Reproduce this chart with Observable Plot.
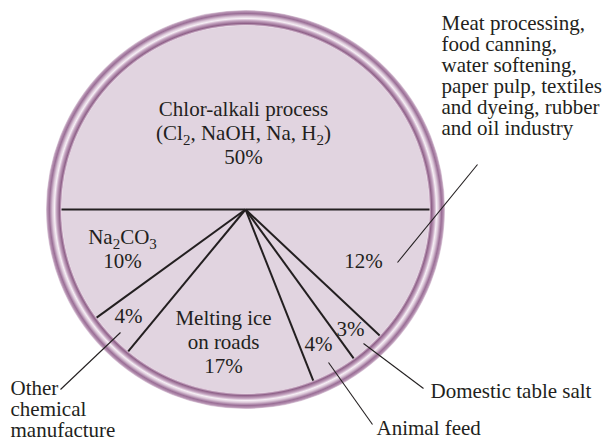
<!DOCTYPE html>
<html><head><meta charset="utf-8">
<script src="https://cdn.jsdelivr.net/npm/d3@7"></script>
<script src="https://cdn.jsdelivr.net/npm/@observablehq/plot@0.6"></script>
<style>body{margin:0;background:#fff}</style>
</head><body><div id="chart"></div>
<script>
// ---- data ----
const categories = [
  "Chlor-alkali process",
  "Meat processing, food canning, water softening, paper pulp, textiles and dyeing, rubber and oil industry",
  "Domestic table salt",
  "Animal feed",
  "Melting ice on roads",
  "Other chemical manufacture",
  "Na2CO3"
];
const shares = [50, 12, 3, 4, 17, 4, 10];
const insideNames = ["Chlor-alkali process\n(Cl_2, NaOH, Na, H_2)", "", "", "", "Melting ice\non roads", "", "Na_2CO_3"];
const calloutNames = ["", "Meat processing,\nfood canning,\nwater softening,\npaper pulp, textiles\nand dyeing, rubber\nand oil industry", "Domestic table salt", "Animal feed", "", "Other\nchemical\nmanufacture", ""];

// ---- layout (offsets from pie centre, in px) ----
const W = 607, H = 440, CX = 245, CY = 209, R = 184, RO = 199.5;
const FS = 21;
const insideAnchor = [[-2, -46], [118, 58], [105, 126], [73, 141], [-22, 163], [-117, 113], [-123, 58]];
const leaderStart = [null, [152, 53], [118, 134], [83, 153], null, [-125, 123], null];
const leaderEnd = [null, [232, -45], [178, 179], [127, 215], null, [-185, 180], null];
const calloutAnchor = [null, [196, -75], [185, 188], [131, 225], null, [-235, 227], null];
const ink = "#231f20";

const arcs = d3.pie().sort(null).startAngle(-Math.PI / 2).endAngle(3 * Math.PI / 2)(shares);
const boundaries = arcs.map(a => ({x: R * Math.sin(a.startAngle), y: -R * Math.cos(a.startAngle)}));

const insideData = shares.map((s, i) => ({
  x: insideAnchor[i][0], y: insideAnchor[i][1],
  text: (insideNames[i] ? insideNames[i] + "\n" : "") + s + "%"
}));
const leaders = categories.map((c, i) => leaderStart[i] ? {
  x1: leaderStart[i][0], y1: leaderStart[i][1], x2: leaderEnd[i][0], y2: leaderEnd[i][1]
} : null).filter(d => d);
const callouts = calloutNames.map((t, i) => t ? {x: calloutAnchor[i][0], y: calloutAnchor[i][1], text: t} : null).filter(d => d);

const rMid = (R + RO) / 2;
const ringStops = [
  [R, "#dcc5d8"], [R + 2, "#8f6189"], [R + 5, "#c6a6c2"], [R + 7, "#f6eff5"],
  [R + 9, "#dcc8d9"], [R + 12, "#9a6e96"], [R + 14, "#b591b1"], [RO, "#e2d2e0"]
];
const defs = () => {
  const ns = "http://www.w3.org/2000/svg";
  const g = document.createElementNS(ns, "defs");
  const rg = document.createElementNS(ns, "radialGradient");
  rg.setAttribute("id", "ring");
  rg.setAttribute("cx", "0.5"); rg.setAttribute("cy", "0.5");
  rg.setAttribute("r", String(0.5 * RO / rMid));
  ringStops.forEach(([r, c]) => {
    const s = document.createElementNS(ns, "stop");
    s.setAttribute("offset", String(r / RO));
    s.setAttribute("stop-color", c);
    rg.appendChild(s);
  });
  g.appendChild(rg);
  return g;
};

const plot = Plot.plot({
  width: W, height: H, margin: 0,
  x: {domain: [-CX, W - CX], axis: null},
  y: {domain: [-CY, H - CY], range: [0, H], axis: null},
  style: {fontFamily: "'Liberation Serif', 'Times New Roman', serif", background: "#fff", color: ink},
  marks: [
    defs,
    Plot.dot([0], {x: 0, y: 0, r: R, fill: "#e1d4e0", stroke: "none"}),
    Plot.dot([0], {x: 0, y: 0, r: rMid, fill: "none", stroke: "url(#ring)", strokeWidth: RO - R}),
    Plot.link(boundaries, {x1: 0, y1: 0, x2: "x", y2: "y", stroke: ink, strokeWidth: 2}),
    Plot.link(leaders, {x1: "x1", y1: "y1", x2: "x2", y2: "y2", stroke: ink, strokeWidth: 1.1}),
    Plot.text(insideData, {x: "x", y: "y", text: "text", textAnchor: "middle", lineAnchor: "bottom", lineHeight: 24 / FS, fontSize: FS, fill: ink}),
    Plot.text(callouts, {x: "x", y: "y", text: "text", textAnchor: "start", lineAnchor: "bottom", lineHeight: 1, fontSize: FS, fill: ink})
  ]
});

// subscripts: "_d" becomes a lowered, smaller digit
const ns = "http://www.w3.org/2000/svg";
plot.querySelectorAll("text, tspan").forEach(el => {
  if (el.childElementCount === 0 && el.textContent.includes("_")) {
    const parts = el.textContent.split(/_(\d)/);
    el.textContent = "";
    let shifted = false;
    parts.forEach((p, i) => {
      if (i % 2 === 1) {
        const t = document.createElementNS(ns, "tspan");
        t.setAttribute("dy", "5"); t.setAttribute("font-size", "15");
        t.textContent = p; el.appendChild(t); shifted = true;
      } else if (p) {
        if (shifted) {
          const t = document.createElementNS(ns, "tspan");
          t.setAttribute("dy", "-5"); t.textContent = p; el.appendChild(t);
        } else el.appendChild(document.createTextNode(p));
        shifted = false;
      }
    });
    if (shifted) {
      const next = el.nextElementSibling;
      if (next && next.getAttribute("dy")) {
        const dy = parseFloat(next.getAttribute("dy")) * FS - 5;
        next.setAttribute("dy", String(dy));
      }
    }
  }
});
document.getElementById("chart").appendChild(plot);
</script>
</body></html>
